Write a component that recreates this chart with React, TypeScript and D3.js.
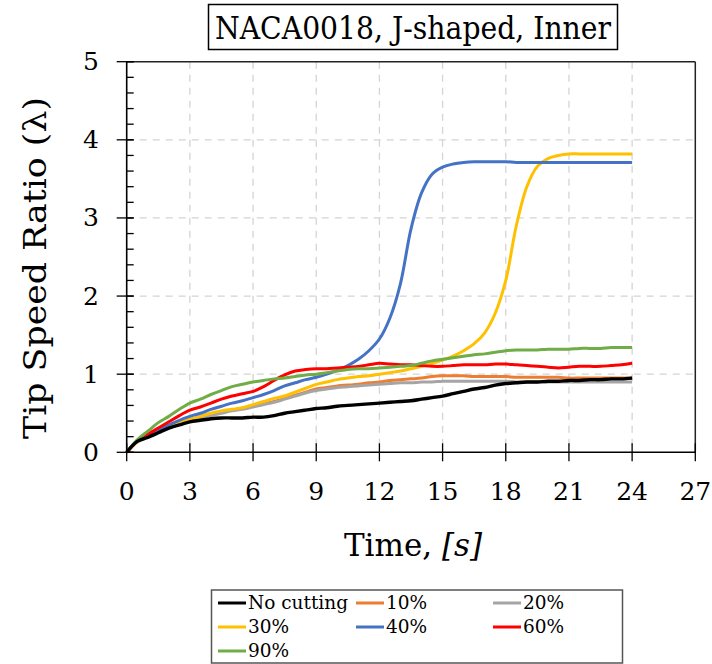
import React from "react";
import * as d3 from "d3";

const time = d3.range(0, 24.01, 0.5).map((v) => +v.toFixed(1));

const noCutting = [0, 0.14, 0.19, 0.25, 0.31, 0.35, 0.39, 0.41, 0.43, 0.44, 0.44, 0.44, 0.45, 0.45, 0.47, 0.5, 0.52, 0.54, 0.56, 0.57, 0.59, 0.6, 0.61, 0.62, 0.63, 0.64, 0.65, 0.66, 0.68, 0.7, 0.72, 0.75, 0.78, 0.81, 0.83, 0.86, 0.88, 0.89, 0.9, 0.9, 0.91, 0.91, 0.92, 0.92, 0.93, 0.93, 0.94, 0.94, 0.95];
const cut10 = [0, 0.14, 0.2, 0.27, 0.32, 0.37, 0.42, 0.45, 0.48, 0.51, 0.54, 0.56, 0.59, 0.62, 0.65, 0.69, 0.73, 0.77, 0.81, 0.83, 0.85, 0.86, 0.87, 0.89, 0.9, 0.92, 0.93, 0.94, 0.95, 0.97, 0.98, 0.98, 0.98, 0.97, 0.97, 0.97, 0.97, 0.96, 0.96, 0.96, 0.96, 0.96, 0.95, 0.95, 0.95, 0.95, 0.95, 0.95, 0.95];
const cut20 = [0, 0.14, 0.2, 0.26, 0.31, 0.36, 0.41, 0.44, 0.47, 0.5, 0.53, 0.55, 0.58, 0.61, 0.64, 0.68, 0.72, 0.76, 0.79, 0.81, 0.83, 0.84, 0.85, 0.86, 0.87, 0.88, 0.89, 0.89, 0.9, 0.9, 0.91, 0.91, 0.91, 0.91, 0.91, 0.91, 0.91, 0.9, 0.9, 0.9, 0.9, 0.9, 0.9, 0.9, 0.9, 0.9, 0.9, 0.9, 0.9];
const cut30 = [0, 0.13, 0.2, 0.26, 0.32, 0.37, 0.42, 0.46, 0.5, 0.53, 0.55, 0.57, 0.61, 0.65, 0.69, 0.72, 0.77, 0.82, 0.87, 0.9, 0.93, 0.95, 0.97, 0.98, 1.0, 1.02, 1.04, 1.07, 1.1, 1.14, 1.18, 1.23, 1.3, 1.39, 1.53, 1.78, 2.2, 2.9, 3.4, 3.66, 3.76, 3.8, 3.82, 3.82, 3.82, 3.82, 3.82, 3.82, 3.82];
const cut40 = [0, 0.14, 0.21, 0.28, 0.35, 0.41, 0.46, 0.5, 0.55, 0.59, 0.63, 0.66, 0.7, 0.74, 0.79, 0.85, 0.89, 0.93, 0.96, 1.0, 1.05, 1.11, 1.19, 1.3, 1.45, 1.72, 2.16, 2.86, 3.32, 3.56, 3.65, 3.69, 3.71, 3.72, 3.72, 3.72, 3.72, 3.71, 3.71, 3.71, 3.71, 3.71, 3.71, 3.71, 3.71, 3.71, 3.71, 3.71, 3.71];
const cut60 = [0, 0.14, 0.23, 0.31, 0.39, 0.47, 0.54, 0.58, 0.63, 0.68, 0.72, 0.75, 0.78, 0.84, 0.92, 0.99, 1.04, 1.06, 1.07, 1.07, 1.08, 1.09, 1.1, 1.12, 1.14, 1.13, 1.12, 1.12, 1.11, 1.1, 1.1, 1.11, 1.12, 1.12, 1.12, 1.13, 1.13, 1.12, 1.11, 1.1, 1.09, 1.08, 1.09, 1.1, 1.1, 1.1, 1.11, 1.12, 1.14];
const cut90 = [0, 0.16, 0.27, 0.38, 0.46, 0.55, 0.63, 0.68, 0.74, 0.79, 0.84, 0.87, 0.9, 0.92, 0.94, 0.95, 0.97, 0.99, 1.0, 1.02, 1.04, 1.06, 1.07, 1.07, 1.08, 1.09, 1.1, 1.11, 1.14, 1.17, 1.19, 1.21, 1.23, 1.25, 1.26, 1.28, 1.3, 1.31, 1.31, 1.31, 1.32, 1.32, 1.32, 1.33, 1.33, 1.33, 1.34, 1.34, 1.34];

const seriesNames = ["No cutting", "10%", "20%", "30%", "40%", "60%", "90%"];
const seriesColors = ["#000000", "#ED7D31", "#A5A5A5", "#FFC000", "#4472C4", "#FF0000", "#70AD47"];
const seriesValues = [noCutting, cut10, cut20, cut30, cut40, cut60, cut90];
const drawOrder = [1, 2, 3, 4, 5, 6, 0];

const xTicks = [0, 3, 6, 9, 12, 15, 18, 21, 24, 27];
const yTicks = [0, 1, 2, 3, 4, 5];
const yMinorTicks = d3.range(0, 5.001, 0.2).map((v) => +v.toFixed(1));

const FONT = "'DejaVu Serif', 'Liberation Serif', serif";

export default function App() {
  const x = d3.scaleLinear().domain([0, 27]).range([126.7, 695.3]);
  const y = d3.scaleLinear().domain([0, 5]).range([452.3, 61.7]);
  const line = d3
    .line<number>()
    .x((_, i) => x(time[i]))
    .y((d) => y(d))
    .curve(d3.curveCatmullRom.alpha(0.5));

  const legendCols = [218, 356, 493];
  const legendRows = [603, 627, 651];

  return (
    <svg
      width={712}
      height={664}
      style={{ position: "absolute", left: 0, top: 0, background: "#fff" }}
      fontFamily={FONT}
    >
      <rect x={0} y={0} width={712} height={664} fill="#fff" />
      {/* grid */}
      {xTicks.slice(1, -1).map((t) => (
        <line key={"gx" + t} x1={x(t)} x2={x(t)} y1={y(5)} y2={y(0)} stroke="#d4d4d4" strokeWidth={1.3} strokeDasharray="7,6" />
      ))}
      {yTicks.slice(1, -1).map((t) => (
        <line key={"gy" + t} x1={x(0)} x2={x(27)} y1={y(t)} y2={y(t)} stroke="#d4d4d4" strokeWidth={1.3} strokeDasharray="7,6" />
      ))}
      {/* frame */}
      <line x1={x(0)} x2={x(27)} y1={y(5)} y2={y(5)} stroke="#222" strokeWidth={1.5} />
      <line x1={x(27)} x2={x(27)} y1={y(5)} y2={y(0)} stroke="#222" strokeWidth={1.5} />
      {/* series */}
      {drawOrder.map((k) => (
        <path key={seriesNames[k]} d={line(seriesValues[k]) || ""} fill="none" stroke={seriesColors[k]} strokeWidth={k === 0 ? 3.4 : 3} strokeLinejoin="round" />
      ))}
      {/* axes */}
      <line x1={x(0)} x2={x(27)} y1={y(0)} y2={y(0)} stroke="#000" strokeWidth={1.6} />
      <line x1={x(0)} x2={x(0)} y1={y(5)} y2={y(0)} stroke="#000" strokeWidth={1.6} />
      {yMinorTicks.map((t) => (
        <line key={"ym" + t} x1={x(0)} x2={x(0) + 7} y1={y(t)} y2={y(t)} stroke="#000" strokeWidth={1.3} />
      ))}
      {yTicks.map((t) => (
        <g key={"yt" + t}>
          <line x1={x(0) - 10} x2={x(0) + 7} y1={y(t)} y2={y(t)} stroke="#000" strokeWidth={1.3} />
          <text x={91} y={y(t) + 8.5} textAnchor="middle" fontSize={25} fill="#000">
            {t}
          </text>
        </g>
      ))}
      {xTicks.map((t) => (
        <g key={"xt" + t}>
          <line x1={x(t)} x2={x(t)} y1={y(0) - 9} y2={y(0) + 9} stroke="#000" strokeWidth={1.3} />
          <text x={x(t)} y={500} textAnchor="middle" fontSize={25} fill="#000">
            {t}
          </text>
        </g>
      ))}
      {/* axis titles */}
      <text x={413} y={556} textAnchor="middle" fontSize={31} fill="#000">
        Time, <tspan fontStyle="italic">[s]</tspan>
      </text>
      <text transform="translate(46,268) rotate(-90)" textAnchor="middle" fontSize={31} fill="#000" textLength={342} lengthAdjust="spacingAndGlyphs">
        Tip Speed Ratio (λ)
      </text>
      {/* title */}
      <rect x={208.5} y={4.5} width={409} height={45} fill="#fff" stroke="#000" strokeWidth={1.5} />
      <text x={413} y={39} textAnchor="middle" fontSize={31} fill="#000" textLength={396} lengthAdjust="spacingAndGlyphs">
        NACA0018, J-shaped, Inner
      </text>
      {/* legend */}
      <rect x={211.5} y={590} width={411} height={73} fill="#fff" stroke="#555" strokeWidth={1.5} />
      {seriesNames.map((name, i) => {
        const cx = legendCols[i % 3];
        const cy = legendRows[Math.floor(i / 3)];
        return (
          <g key={"lg" + name}>
            <line x1={cx} x2={cx + 28} y1={cy} y2={cy} stroke={seriesColors[i]} strokeWidth={3} />
            <text x={cx + 30} y={cy + 6} fontSize={18.5} fill="#000">
              {name}
            </text>
          </g>
        );
      })}
    </svg>
  );
}
